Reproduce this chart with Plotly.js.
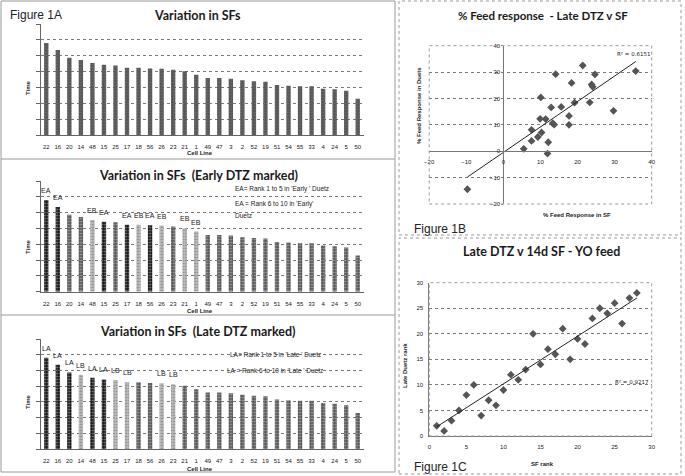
<!DOCTYPE html>
<html>
<head>
<meta charset="utf-8">
<script src="https://cdn.plot.ly/plotly-3.0.1.min.js"></script>
<style>html,body{margin:0;padding:0;background:#fff}#chart{width:685px;height:476px}</style>
</head>
<body>
<div id="chart"></div>
<script>
// ---------- DATA ----------
const cellLines = ['22','16','20','14','48','15','25','17','18','56','26','23','21','1','49','47','3','2','52','19','51','54','55','33','4','24','5','50'];
const sfTime = [5.8,5.36,4.87,4.73,4.54,4.43,4.39,4.24,4.24,4.2,4.18,4.12,4.02,3.8,3.59,3.59,3.55,3.45,3.39,3.36,3.15,3.11,3.07,3.07,2.92,2.88,2.79,2.29];
const earlyMarks = ['EA','EA','','','EB','EA','','EA','EB','EA','EB','','EB','EB','','','','','','','','','','','','','',''];
const lateMarks = ['LA','LA','LA','LB','LA','LA','LB','LB','','','LB','LB','','','','','','','','','','','','','','','',''];

const sfResponse = [14.1,21.4,24.7,35.7,18.4,23.8,24.1,10.1,19.2,23.3,29.7,12.9,15.6,17.7,9.9,11.4,13.3,13.7,17.7,7.6,10.3,9.3,7.6,12.1,5.5,11.9,-9.7];
const duetResponse = [29.2,32.5,29.1,30.4,25.9,25.3,24.4,20.4,18.4,18.5,15.3,16.6,16.8,13.4,12.3,12.2,10.6,10.1,10.0,8.1,7.1,5.4,3.9,3.4,0.9,-0.9,-14.4];
const trendB_x = [-9.7, 35.7];
const trendB_y = [-9.8, 34.0];
const r2B = 'R² = 0.6151';

const sfRank = [1,2,3,4,5,6,7,8,9,10,11,12,13,14,15,16,17,18,19,20,21,22,23,24,25,26,27,28];
const lateDuetRank = [2,1,3,5,8,10,4,7,6,9,12,11,13,20,14,17,16,21,15,19,18,23,25,24,26,22,27,28];
const trendC_x = [1, 28];
const trendC_y = [1.8, 27.0];
const r2C = 'R² = 0.9217';

// ---------- HELPERS ----------
const W = 685, H = 476;
const fx = p => p / W;
const fy = p => 1 - p / H;
const FONT = 'Liberation Sans, Arial, sans-serif';
const TFONT = 'Lato, Open Sans, sans-serif';
const DARK = '#555555', BLACK = '#161616', LIGHT = '#c0c0c0';

const markColor = m => (m === 'EA' || m === 'LA') ? BLACK : (m === 'EB' || m === 'LB') ? LIGHT : DARK;

function barTrace(ax, marks) {
  return {
    type: 'bar', x: cellLines, y: sfTime, xaxis: 'x' + ax, yaxis: 'y' + ax,
    marker: {color: marks ? marks.map(markColor) : DARK, line: {width: 0},
             pattern: {shape: '.', fillmode: 'overlay', fgcolor: 'rgba(255,255,255,0.3)', size: 3, solidity: 0.3}},
    hoverinfo: 'skip', showlegend: false
  };
}

function barAxes(n, top, bottom) {
  const xa = {domain: [fx(40.5), fx(363.5)], anchor: 'y' + n, type: 'category', range: [-0.5, 27.5],
    showline: true, linecolor: '#666', linewidth: 1, ticks: 'outside', ticklen: 6, tickcolor: 'rgba(0,0,0,0)',
    tickfont: {family: FONT, size: 6, color: '#1a1a1a'}, tickangle: 0, showgrid: false, fixedrange: true};
  const ya = {domain: [fy(bottom), fy(top)], anchor: 'x' + n, range: [0, 7], dtick: 1,
    showticklabels: false, ticks: 'outside', ticklen: 4, tickcolor: '#666',
    showline: true, linecolor: '#666', showgrid: true, gridcolor: '#7a7a7a', griddash: 'dot', gridwidth: 1,
    zeroline: false, fixedrange: true};
  return [xa, ya];
}

const traces = [barTrace('', null), barTrace('2', earlyMarks), barTrace('3', lateMarks)];

traces.push({type: 'scatter', mode: 'markers', x: sfResponse, y: duetResponse, xaxis: 'x4', yaxis: 'y4',
  marker: {symbol: 'diamond', size: 6, color: '#555'}, hoverinfo: 'skip', showlegend: false});
traces.push({type: 'scatter', mode: 'lines', x: trendB_x, y: trendB_y, xaxis: 'x4', yaxis: 'y4',
  line: {color: '#222', width: 1}, hoverinfo: 'skip', showlegend: false});
traces.push({type: 'scatter', mode: 'markers', x: sfRank, y: lateDuetRank, xaxis: 'x5', yaxis: 'y5',
  marker: {symbol: 'diamond', size: 6, color: '#555'}, hoverinfo: 'skip', showlegend: false});
traces.push({type: 'scatter', mode: 'lines', x: trendC_x, y: trendC_y, xaxis: 'x5', yaxis: 'y5',
  line: {color: '#222', width: 1}, hoverinfo: 'skip', showlegend: false});

const [xa1, ya1] = barAxes('', 24, 135);
const [xa2, ya2] = barAxes('2', 181, 291.7);
const [xa3, ya3] = barAxes('3', 339, 449);

const tickF = {family: FONT, size: 6, color: '#1a1a1a'};
// 1B axes (cross at zero)
const bx0 = 429.2, bx1 = 651.7, by0 = 45.7, by1 = 204;
const xa4 = {domain: [fx(bx0), fx(bx1)], range: [-20, 40], dtick: 10, anchor: 'free',
  position: fy(by1 - (by1 - by0) * (20 / 60)), showline: true, linecolor: '#777', ticks: 'outside', ticklen: 5,
  tickcolor: 'rgba(0,0,0,0)', tickfont: tickF, showgrid: false, zeroline: false, fixedrange: true};
const ya4 = {domain: [fy(by1), fy(by0)], range: [-20, 40], dtick: 10, anchor: 'free',
  position: fx(bx0 + (bx1 - bx0) * (20 / 60)), showline: true, linecolor: '#777', ticks: 'outside', ticklen: 2,
  tickcolor: '#777', tickfont: tickF, showgrid: true, gridcolor: '#7a7a7a', griddash: 'dot', zeroline: false, fixedrange: true};
// 1C axes
const cx0 = 429.3, cx1 = 651.7, cy0 = 282.7, cy1 = 436;
const xa5 = {domain: [fx(cx0), fx(cx1)], range: [0, 30], dtick: 5, anchor: 'y5', showline: true, linecolor: '#777',
  ticks: 'outside', ticklen: 5, tickcolor: 'rgba(0,0,0,0)', tickfont: tickF, showgrid: false, zeroline: false, fixedrange: true};
const ya5 = {domain: [fy(cy1), fy(cy0)], range: [0, 30], dtick: 5, anchor: 'x5', showline: true, linecolor: '#777',
  ticks: 'outside', ticklen: 4, tickcolor: 'rgba(0,0,0,0)', tickfont: tickF, showgrid: true, gridcolor: '#7a7a7a',
  griddash: 'dot', zeroline: false, fixedrange: true};

// ---------- ANNOTATIONS ----------
const anns = [];
function txt(text, x, y, o) {
  o = o || {};
  anns.push({text: text, xref: 'paper', yref: 'paper', x: fx(x), y: fy(y), showarrow: false,
    xanchor: o.xa || 'center', yanchor: 'middle', textangle: o.rot || 0,
    font: {family: o.fam || FONT, size: o.size || 6, color: o.color || '#222', weight: o.weight || 'normal'}});
}
const titleF = {fam: TFONT, size: 12.5, weight: 'bold', color: '#1a1a1a'};
txt('Figure 1A', 8, 15, {xa: 'left', size: 12});
txt('Figure 1B', 412, 229, {xa: 'left', size: 12});
txt('Figure 1C', 412, 467, {xa: 'left', size: 12});
txt('Variation in SFs', 197, 15, titleF);
txt('Variation in SFs  (Early DTZ marked)', 198, 175, titleF);
txt('Variation in SFs  (Late DTZ marked)', 197, 331, titleF);
txt('% Feed response  - Late DTZ v SF', 543, 15, Object.assign({}, titleF, {size: 11.5}));
txt('Late DTZ v 14d SF - YO feed', 541, 251, titleF);
// axis titles
[88, 247, 402].forEach(y => txt('Time', 28, y, {rot: -90, weight: 'bold'}));
[153.5, 311, 469].forEach(y => txt('Cell Line', 200, y, {weight: 'bold'}));
txt('% Feed Response in Duets', 419, 106, {rot: -90, weight: 'bold'});
txt('% Feed Response in SF', 577, 215, {weight: 'bold'});
txt('Late Duetz rank', 405, 366, {rot: -90, weight: 'bold'});
txt('SF rank', 542, 464, {weight: 'bold'});
txt(r2B, 652, 54, {xa: 'right', fam: 'DejaVu Sans, sans-serif', size: 5.5});
txt(r2C, 651, 382, {xa: 'right', fam: 'DejaVu Sans, sans-serif', size: 5.5});
// legends in bar charts
txt("EA= Rank 1 to 5 in 'Early ' Duetz", 233, 189.5, {xa: 'left', size: 6.5});
txt("EA = Rank 6 to 10 in 'Early'", 233, 203.5, {xa: 'left', size: 6.5});
txt('Duetz', 233, 216, {xa: 'left', size: 6.5});
txt("LA= Rank 1 to 5 in 'Late ' Duetz", 275, 354.5, {size: 6.5});
txt("LA = Rank 6 to 10 in 'Late ' Duetz", 275, 370, {size: 6.5});
// bar marks (x given as category index)
function markAnns(ax, marks) {
  marks.forEach((m, i) => {
    if (!m) return;
    anns.push({text: m, xref: 'x' + ax, yref: 'y' + ax, x: i, y: sfTime[i], yanchor: 'bottom',
      yshift: 4, showarrow: false, font: {family: FONT, size: 7, color: '#222'}});
  });
}
markAnns('2', earlyMarks);
markAnns('3', lateMarks);

// ---------- SHAPES ----------
const shapes = [];
function rect(x0, y0, x1, y1, color, dash) {
  shapes.push({type: 'rect', xref: 'paper', yref: 'paper', x0: fx(x0), x1: fx(x1), y0: fy(y1), y1: fy(y0),
    line: {color: color, width: 1, dash: dash || 'solid'}});
}
function hline(x0, x1, y, color) {
  shapes.push({type: 'line', xref: 'paper', yref: 'paper', x0: fx(x0), x1: fx(x1), y0: fy(y), y1: fy(y),
    line: {color: color, width: 1}});
}
rect(1, 1, 395, 472, '#9a9a9a');
hline(1, 395, 159, '#9a9a9a');
hline(1, 395, 315, '#9a9a9a');
rect(399, 1, 681, 235, '#9a9a9a', 'dot');
rect(399, 238, 681, 474, '#9a9a9a', 'dot');
['4', '5'].forEach(n => shapes.push({type: 'rect', xref: 'x' + n + ' domain', yref: 'y' + n + ' domain',
  x0: 0, x1: 1, y0: 0, y1: 1, line: {color: '#9a9a9a', width: 1, dash: 'dot'}}));

const layout = {
  width: W, height: H, margin: {l: 0, r: 0, t: 0, b: 0}, paper_bgcolor: '#fff', plot_bgcolor: 'rgba(0,0,0,0)',
  showlegend: false, bargap: 0.62,
  xaxis: xa1, yaxis: ya1, xaxis2: xa2, yaxis2: ya2, xaxis3: xa3, yaxis3: ya3,
  xaxis4: xa4, yaxis4: ya4, xaxis5: xa5, yaxis5: ya5,
  annotations: anns, shapes: shapes
};
Plotly.newPlot('chart', traces, layout, {displayModeBar: false, staticPlot: true});
</script>
</body>
</html>
